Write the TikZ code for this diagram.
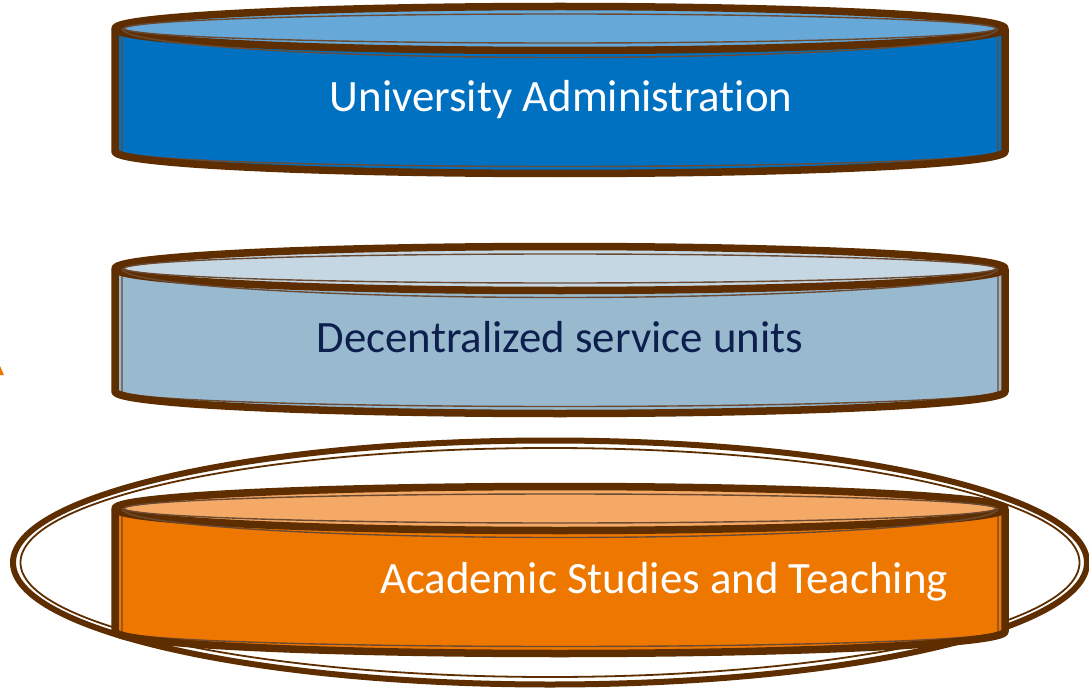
\documentclass[tikz,border=0pt]{standalone}
\usepackage{fontspec}
\setmainfont{Carlito}[Ligatures=NoCommon]
\definecolor{brn}{HTML}{5F2E00}
\definecolor{thinc}{HTML}{6B4A33}
\definecolor{blueB}{HTML}{0070C0}
\definecolor{blueT}{HTML}{66A8D8}
\definecolor{greyB}{HTML}{98B9CE}
\definecolor{greyT}{HTML}{C5D7E2}
\definecolor{oraB}{HTML}{EE7700}
\definecolor{oraT}{HTML}{F4AA66}
\definecolor{navy}{HTML}{0D1F4D}
\tikzset{
  brownln/.style={draw=brn, line width=7.5bp, line join=round},
  thinln/.style={draw=thinc, line width=1.4bp},
  lbl/.style={font=\fontsize{45}{50}\selectfont, inner sep=0pt, anchor=base},
  ringout/.style={draw=brn, line width=6bp},
  ringin/.style={draw=brn, line width=1.8bp}
}
\newcommand{\drawcyl}[3]{%
  \pgfmathsetmacro\cyt{-#1}%
  \pgfmathsetmacro\cyb{-#1-123}%
  \path[fill=#2] (115,\cyt) -- (115,\cyb)
     arc[start angle=180,end angle=360,x radius=445bp,y radius=22bp]
     -- (1005,\cyt)
     arc[start angle=0,end angle=180,x radius=445bp,y radius=22bp] -- cycle;
  \draw[thinln] (122,\cyt) -- (122,\cyb)
     arc[start angle=180,end angle=360,x radius=438bp,y radius=15bp]
     -- (998,\cyt);
  \draw[brownln, fill=#3] (560,\cyt) ellipse[x radius=445bp,y radius=22bp];
  \draw[thinln] (560,\cyt) ellipse[x radius=436bp,y radius=14.5bp];
  \draw[thinln] (122,\cyt) arc[start angle=180,end angle=360,x radius=438bp,y radius=29bp];
  \draw[brownln] (115,\cyt) -- (115,\cyb)
     arc[start angle=180,end angle=360,x radius=445bp,y radius=22bp]
     -- (1005,\cyt);
}
\begin{document}
\begin{tikzpicture}[x=1bp,y=1bp]
\useasboundingbox[fill=white] (0,0) rectangle (1089,-693);
% partial orange arrowhead at left edge
\fill[oraB] (-4,-375) -- (0,-366) -- (4,-375) -- cycle;
% highlight ring
\draw[ringout] (550,-562.5) ellipse[x radius=537bp,y radius=122bp];
\draw[ringin] (550,-562.5) ellipse[x radius=529.5bp,y radius=114.5bp];
% cylinders
\drawcyl{28.5}{blueB}{blueT}
\drawcyl{268.5}{greyB}{greyT}
\drawcyl{508.5}{oraB}{oraT}
\node[lbl, text=white] (t1) at (561,-112) {University Administration};
\node[lbl, text=navy] (t2) at (560,-352) {Decentralized service units};
\node[lbl, text=white] (t3) at (664,-593) {Academic Studies and Teaching};
\end{tikzpicture}
\end{document}
